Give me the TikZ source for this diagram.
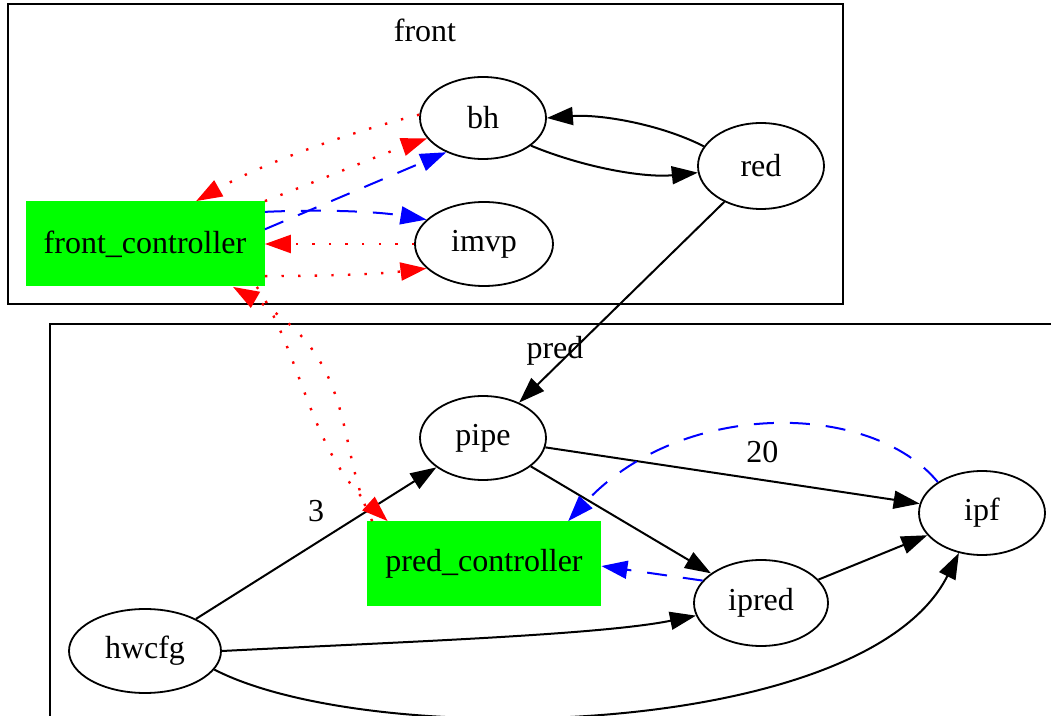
\documentclass[tikz,border=0pt]{standalone}
\usepackage{fontspec}
\setmainfont{Liberation Serif}
\usetikzlibrary{arrows.meta,shapes.geometric}
\tikzset{
	gvfont/.style={font=\fontsize{16pt}{19pt}\selectfont},
	gvnode/.style={draw, ellipse, line width=0.9pt, inner sep=0pt, gvfont},
	ctrlbox/.style={rectangle, fill=green, inner sep=0pt, gvfont},
	cluster/.style={draw, line width=0.8pt},
	solidedge/.style={line width=1pt, -{Triangle[length=13pt,width=9pt]}},
	blueedge/.style={solidedge, blue, dash pattern=on 10pt off 8pt},
	rededge/.style={solidedge, red, line width=1.2pt, dash pattern=on 1.2pt off 7.1pt},
	elabel/.style={inner sep=1pt, gvfont}
}

\begin{document}
\begin{tikzpicture}[x=0.5pt, y=-0.5pt]
				%%%%% START %%%%%
				\useasboundingbox (0,0) rectangle (1051,716);
				
				%% clusters
				\draw[cluster] (8,4) rectangle (843,304);
				\node[gvfont] (lfront) at (425,30) {front};
				\draw[cluster] (50,324) rectangle (1060,740);
				\node[gvfont] (lpred) at (555,351) {pred};
				
				%% nodes of front
				\node[gvnode, minimum width=63pt, minimum height=41pt] (bh) at (483,118) {bh};
				\node[gvnode, minimum width=63pt, minimum height=43pt] (red) at (761,166) {red};
				\node[gvnode, minimum width=69pt, minimum height=42pt] (imvp) at (484,244) {imvp};
				\node[ctrlbox, minimum width=119.5pt, minimum height=42.5pt] (fc) at (145,244) {front\_controller};
				
				%% nodes of pred
				\node[gvnode, minimum width=63pt, minimum height=42pt] (pipe) at (483,438) {pipe};
				\node[ctrlbox, minimum width=117pt, minimum height=42.5pt] (pc) at (484,564) {pred\_controller};
				\node[gvnode, minimum width=63pt, minimum height=42pt] (ipf) at (982,513) {ipf};
				\node[gvnode, minimum width=67pt, minimum height=43pt] (ipred) at (761,603) {ipred};
				\node[gvnode, minimum width=76pt, minimum height=42pt] (hwcfg) at (145,651) {hwcfg};
				
				%% solid edges
				\draw[solidedge] (red.161) .. controls (660,124) and (600,114) .. (bh.east);
				\draw[solidedge] (bh.-30) .. controls (585,168) and (645,178) .. (red.186);
				\draw[solidedge] (red) -- (pipe);
				\draw[solidedge] (pipe) -- node[elabel, pos=0.58, above=7pt] (l20) {20} (ipf);
				\draw[solidedge] (pipe) -- (ipred);
				\draw[solidedge] (ipred) -- (ipf);
				\draw[solidedge] (hwcfg) -- node[elabel, pos=0.5, above=9pt] (l3) {3} (pipe);
				\draw[solidedge] (hwcfg.east) .. controls (400,642) and (600,635) .. (ipred.191);
				\draw[solidedge] (hwcfg.-15) .. controls (370,750) and (865,740) .. (ipf.240);
				
				%% dashed edges
				\draw[blueedge] (fc.7) -- (bh.223);
				\draw[blueedge] (fc.15) .. controls (330,209) and (380,212) .. (imvp.157);
				\draw[blueedge] (ipf.145) .. controls (870,400) and (680,400) .. (pc.27);
				\draw[blueedge] (ipred.159) -- (pc.-1);
				
				%% dotted edges
				\draw[rededge] (bh.177) .. controls (340,135) and (260,165) .. (fc.40);
				\draw[rededge] (fc.north east) .. controls (320,180) and (380,155) .. (bh.200);
				\draw[rededge] (imvp.west) -- (fc.east);
				\draw[rededge] (fc.-15) .. controls (330,276) and (380,274) .. (imvp.203);
				\draw[rededge] (fc.-21) .. controls (300,350) and (310,450) .. (pc.156);
				\draw[rededge] (pc.159) .. controls (335,450) and (360,360) .. (fc.-26);
				%%%%% END %%%%%
\end{tikzpicture}
\end{document}
